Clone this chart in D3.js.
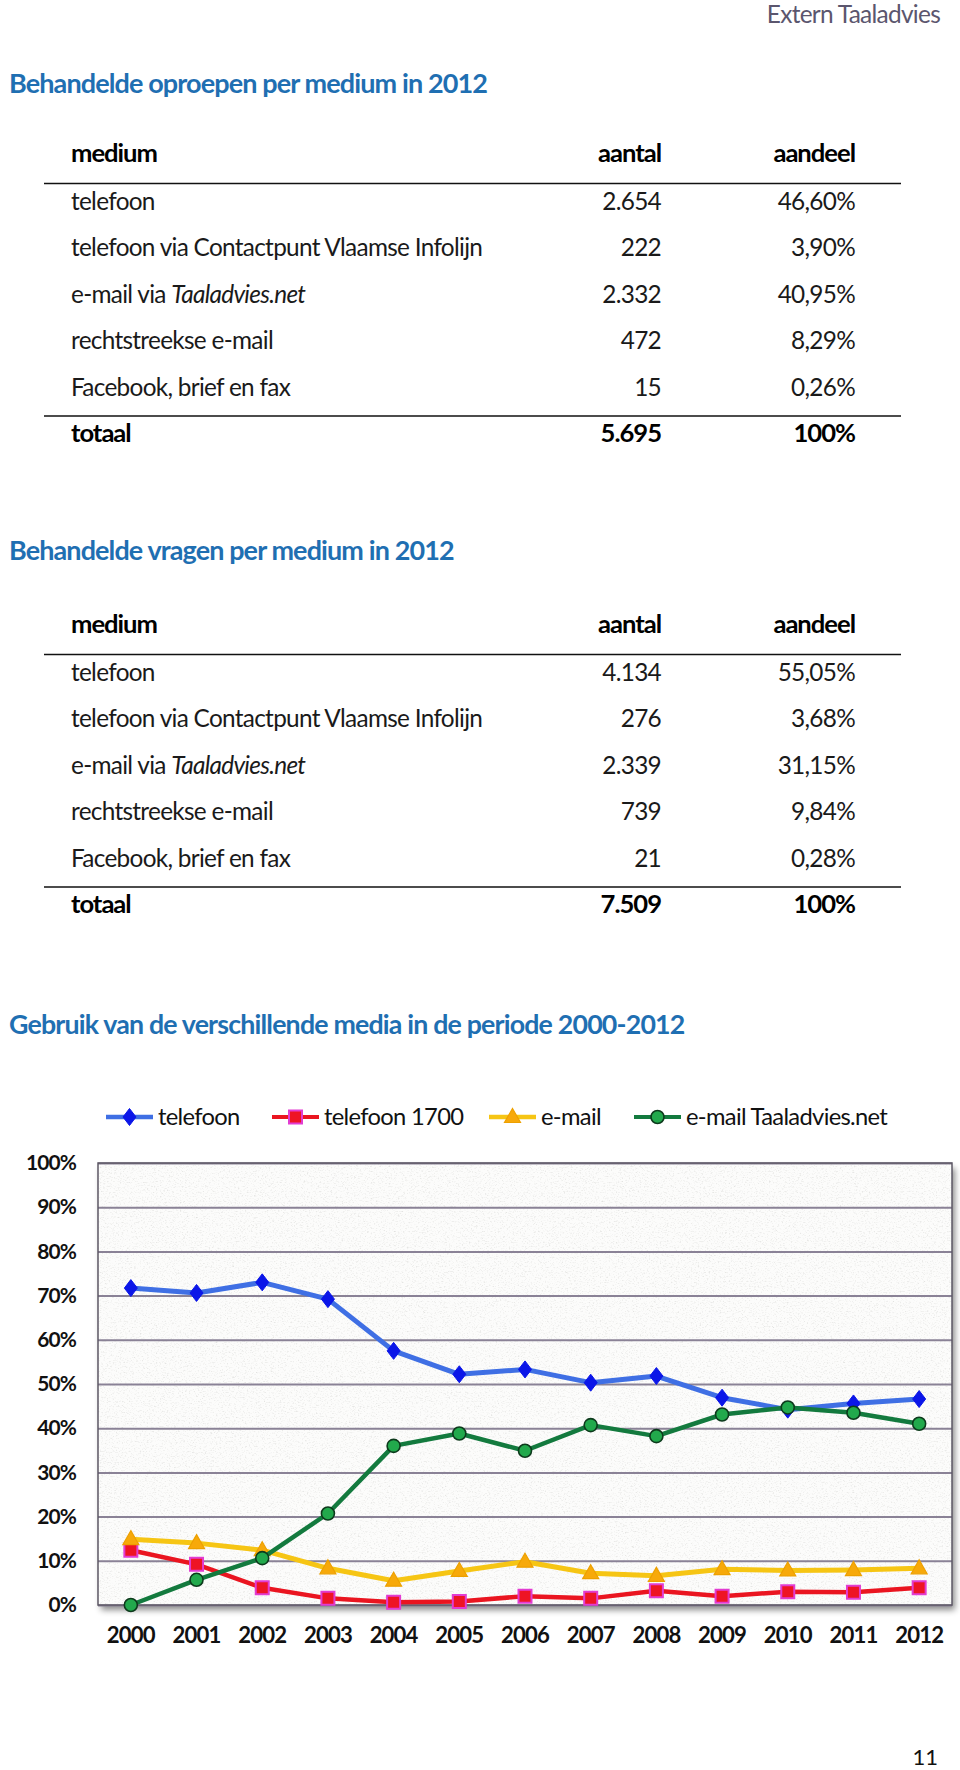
<!DOCTYPE html>
<html>
<head>
<meta charset="utf-8">
<script src="https://cdn.jsdelivr.net/npm/d3@7"></script>
<style>
  html, body { margin: 0; padding: 0; background: #fff; }
  svg { display: block; }
  text { font-family: Lato, "Open Sans", sans-serif; }
</style>
</head>
<body>
<svg id="page" width="960" height="1770"></svg>
<script>
// ---------------- DATA ----------------
const media = ["telefoon", "telefoon via Contactpunt Vlaamse Infolijn", "e-mail via Taaladvies.net", "rechtstreekse e-mail", "Facebook, brief en fax"];
const columns = ["medium", "aantal", "aandeel"];

const oproepenAantal = [2654, 222, 2332, 472, 15];
const oproepenAandeel = [46.60, 3.90, 40.95, 8.29, 0.26];
const oproepenTotaal = 5695;

const vragenAantal = [4134, 276, 2339, 739, 21];
const vragenAandeel = [55.05, 3.68, 31.15, 9.84, 0.28];
const vragenTotaal = 7509;

const years = ["2000","2001","2002","2003","2004","2005","2006","2007","2008","2009","2010","2011","2012"];
const seriesNames = ["telefoon", "telefoon 1700", "e-mail", "e-mail Taaladvies.net"];
const telefoon        = [71.7, 70.6, 73.0, 69.2, 57.5, 52.2, 53.3, 50.3, 51.8, 46.9, 44.2, 45.6, 46.6];
const telefoon1700    = [12.4,  9.2,  3.9,  1.5,  0.6,  0.8,  2.0,  1.5,  3.2,  2.0,  3.0,  2.9,  3.9];
const email           = [14.9, 14.0, 12.4,  8.3,  5.5,  7.7,  9.8,  7.2,  6.6,  8.1,  7.8,  7.9,  8.3];
const emailTaaladvies = [ 0.0,  5.7, 10.6, 20.7, 36.0, 38.8, 34.9, 40.7, 38.2, 43.1, 44.7, 43.5, 41.0];
const yTicks = [0, 0.1, 0.2, 0.3, 0.4, 0.5, 0.6, 0.7, 0.8, 0.9, 1.0];

// ---------------- HELPERS ----------------
const nl = d3.formatLocale({decimal: ",", thousands: ".", grouping: [3], currency: ["€", ""]});
const fmtInt = nl.format(",d");
const fmtPct = v => nl.format(".2f")(v) + "%";

const FAMILY = "Lato, 'Open Sans', sans-serif";
const mctx = document.createElement("canvas").getContext("2d");
function fit(text, weight, target, style) {
  mctx.font = `${style || "normal"} ${weight} 100px ${FAMILY}`;
  return 100 * target / mctx.measureText(text).width;
}
// slightly taller glyphs with tighter tracking (Calibri-like proportions)
const K = 1.07;
function tight(sel, text, weight, target) {
  const s = fit(text, weight, target);
  sel.attr("font-size", s * K).attr("letter-spacing", -(K - 1) * target / text.length);
  return sel;
}

const svg = d3.select("#page");
const defs = svg.append("defs");

// ---------------- HEADER ----------------
tight(svg.append("text")
  .attr("x", 940).attr("y", 14).attr("dy", "0.35em")
  .attr("text-anchor", "end")
  .attr("fill", "#5b566e"), "Extern Taaladvies", 400, 174)
  .text("Extern Taaladvies");

const titleBlue = "#1f6fb2";
function title(txt, y, w) {
  tight(svg.append("text")
    .attr("x", 9).attr("y", y).attr("dy", "0.35em")
    .attr("fill", titleBlue)
    .attr("font-weight", 700), txt, 700, w)
    .text(txt);
}

// ---------------- TABLES ----------------
const bodyRef = "telefoon via Contactpunt Vlaamse Infolijn";
const bodySize = fit(bodyRef, 400, 413) * K;
const bodyLS = -(K - 1) * 413 / bodyRef.length;
const headSize = fit("medium", 700, 86) * K;
const headLS = -(K - 1) * 86 / 6;
const colX = {medium: 71, aantal: 661, aandeel: 855};

function table(headerY, aantal, aandeel, totaal) {
  const g = svg.append("g");
  const rowY = d3.scalePoint().domain(d3.range(media.length)).range([headerY + 48.5, headerY + 48.5 + 46.4 * 4]);

  g.selectAll("text.h").data(columns).join("text")
    .attr("class", "h")
    .attr("x", d => colX[d]).attr("y", headerY).attr("dy", "0.35em")
    .attr("text-anchor", d => d === "medium" ? "start" : "end")
    .attr("font-weight", 700).attr("font-size", headSize).attr("letter-spacing", headLS).attr("fill", "#000")
    .text(d => d);

  g.selectAll("line").data([headerY + 30.5, headerY + 263]).join("line")
    .attr("x1", 44).attr("x2", 901).attr("y1", d => d).attr("y2", d => d)
    .attr("stroke", "#111").attr("stroke-width", 1.6);

  const rows = g.selectAll("g.row").data(media.map((m, i) => ({m, n: aantal[i], p: aandeel[i], i})))
    .join("g").attr("class", "row")
    .attr("transform", d => `translate(0,${rowY(d.i)})`)
    .attr("font-size", bodySize).attr("letter-spacing", bodyLS).attr("fill", "#1a1a1a");

  rows.append("text").attr("x", colX.medium).attr("dy", "0.35em")
    .each(function(d) {
      const t = d3.select(this);
      if (d.m.indexOf("Taaladvies.net") >= 0) {
        t.append("tspan").text("e-mail via ");
        t.append("tspan").attr("font-style", "italic").text("Taaladvies.net");
      } else t.text(d.m);
    });
  rows.append("text").attr("x", colX.aantal).attr("dy", "0.35em").attr("text-anchor", "end").text(d => fmtInt(d.n));
  rows.append("text").attr("x", colX.aandeel).attr("dy", "0.35em").attr("text-anchor", "end").text(d => fmtPct(d.p));

  const tg = g.append("g").attr("font-weight", 700).attr("font-size", headSize).attr("letter-spacing", headLS).attr("fill", "#000");
  tg.append("text").attr("x", colX.medium).attr("y", headerY + 280).attr("dy", "0.35em").text("totaal");
  tg.append("text").attr("x", colX.aantal).attr("y", headerY + 280).attr("dy", "0.35em").attr("text-anchor", "end").text(fmtInt(totaal));
  tg.append("text").attr("x", colX.aandeel).attr("y", headerY + 280).attr("dy", "0.35em").attr("text-anchor", "end").text("100%");
}

title("Behandelde oproepen per medium in 2012", 84, 479);
table(153, oproepenAantal, oproepenAandeel, oproepenTotaal);

title("Behandelde vragen per medium in 2012", 551, 446);
table(624, vragenAantal, vragenAandeel, vragenTotaal);

title("Gebruik van de verschillende media in de periode 2000-2012", 1025, 677);

// ---------------- CHART ----------------
const plot = {left: 98, right: 952, top: 1163, bottom: 1605};
const x = d3.scaleBand().domain(years).range([plot.left, plot.right]);
const y = d3.scaleLinear().domain([0, 1]).range([plot.bottom, plot.top]);

const shadow = defs.append("filter").attr("id", "shadow").attr("x", "-5%").attr("y", "-5%").attr("width", "112%").attr("height", "115%");
shadow.append("feDropShadow").attr("dx", 3).attr("dy", 5).attr("stdDeviation", 3).attr("flood-color", "#000").attr("flood-opacity", 0.45);

const noise = defs.append("filter").attr("id", "noise").attr("x", 0).attr("y", 0).attr("width", "100%").attr("height", "100%");
noise.append("feTurbulence").attr("type", "fractalNoise").attr("baseFrequency", "0.55 0.8").attr("numOctaves", 3).attr("seed", 7);
noise.append("feColorMatrix").attr("type", "matrix")
  .attr("values", "0 0 0 0 0.6  0 0 0 0 0.6  0 0 0 0 0.58  2.2 0 0 0 -1.15");

const chart = svg.append("g");
chart.append("rect")
  .attr("x", plot.left).attr("y", plot.top)
  .attr("width", plot.right - plot.left).attr("height", plot.bottom - plot.top)
  .attr("fill", "#fcfcfb").attr("filter", "url(#shadow)");
chart.append("rect")
  .attr("x", plot.left).attr("y", plot.top)
  .attr("width", plot.right - plot.left).attr("height", plot.bottom - plot.top)
  .attr("fill", "#fff").attr("filter", "url(#noise)").attr("opacity", 0.6);

const grid = chart.append("g")
  .attr("transform", `translate(${plot.left},0)`)
  .call(d3.axisLeft(y).tickValues(yTicks).tickSize(-(plot.right - plot.left)).tickFormat(""));
grid.select(".domain").remove();
grid.selectAll(".tick line").attr("stroke", "#8a8296").attr("stroke-width", 2);

chart.append("rect")
  .attr("x", plot.left).attr("y", plot.top)
  .attr("width", plot.right - plot.left).attr("height", plot.bottom - plot.top)
  .attr("fill", "none").attr("stroke", "#5d5866").attr("stroke-width", 1.5);

const yAx = chart.append("g")
  .attr("transform", `translate(${plot.left},0)`)
  .call(d3.axisLeft(y).tickValues(yTicks).tickSize(0).tickPadding(22).tickFormat(d3.format(".0%")));
yAx.select(".domain").remove();
yAx.selectAll("text")
  .attr("font-family", FAMILY).attr("font-weight", 700)
  .attr("font-size", fit("100%", 700, 50) * K).attr("letter-spacing", -(K - 1) * 50 / 4).attr("fill", "#111");

const xAx = chart.append("g")
  .attr("transform", `translate(0,${plot.bottom})`)
  .call(d3.axisBottom(x).tickSize(0).tickPadding(0));
xAx.select(".domain").remove();
xAx.selectAll("text")
  .attr("y", 30).attr("dy", "0.35em")
  .attr("font-family", FAMILY).attr("font-weight", 700)
  .attr("font-size", fit("2000", 700, 48) * K).attr("letter-spacing", -(K - 1) * 48 / 4).attr("fill", "#111");

const styles = [
  {values: telefoon,        line: "#3f6fe4", lw: 5,   marker: "diamond",  fill: "#0b16e8", stroke: "#0b16e8", sw: 1},
  {values: telefoon1700,    line: "#ea1520", lw: 4.5, marker: "square",   fill: "#ee1424", stroke: "#e23cd2", sw: 2},
  {values: email,           line: "#f6c514", lw: 5,   marker: "triangle", fill: "#f7a90a", stroke: "#eda000", sw: 1.2},
  {values: emailTaaladvies, line: "#137a3e", lw: 4.5, marker: "circle",   fill: "#22a94c", stroke: "#0d3a1c", sw: 1.6}
];
const markerPath = {
  diamond: "M0,-8.5L6.5,0L0,8.5L-6.5,0Z",
  square: "M-6.5,-6.5H6.5V6.5H-6.5Z",
  triangle: "M0,-8.5L8,5.5H-8Z",
  circle: "M6.5,0A6.5,6.5 0 1,1 -6.5,0A6.5,6.5 0 1,1 6.5,0Z"
};

const lineGen = d3.line().x((d, i) => x(years[i]) + x.bandwidth() / 2).y(d => y(d / 100));

const seriesG = chart.selectAll("g.series").data(styles).join("g").attr("class", "series");
seriesG.append("path")
  .attr("d", s => lineGen(s.values))
  .attr("fill", "none").attr("stroke", s => s.line).attr("stroke-width", s => s.lw)
  .attr("stroke-linejoin", "round").attr("stroke-linecap", "round");
seriesG.each(function(s) {
  d3.select(this).selectAll("path.m").data(s.values).join("path")
    .attr("class", "m")
    .attr("transform", (d, i) => `translate(${x(years[i]) + x.bandwidth() / 2},${y(d / 100)})`)
    .attr("d", markerPath[s.marker])
    .attr("fill", s.fill).attr("stroke", s.stroke).attr("stroke-width", s.sw);
});

const legendX = [106, 272, 489, 634];
const legendY = 1117;
const legRef = "e-mail Taaladvies.net";
const legSize = fit(legRef, 400, 202) * K;
const leg = chart.selectAll("g.leg").data(styles).join("g").attr("class", "leg")
  .attr("transform", (s, i) => `translate(${legendX[i]},${legendY})`);
leg.append("line").attr("x1", 0).attr("x2", 47)
  .attr("stroke", s => s.line).attr("stroke-width", s => s.lw - 0.5);
leg.append("path").attr("transform", "translate(23.5,0)")
  .attr("d", s => markerPath[s.marker])
  .attr("fill", s => s.fill).attr("stroke", s => s.stroke).attr("stroke-width", s => s.sw);
leg.append("text").attr("x", 52).attr("dy", "0.35em")
  .attr("font-size", legSize).attr("letter-spacing", -(K - 1) * 202 / legRef.length).attr("fill", "#111")
  .text((s, i) => seriesNames[i]);

svg.append("text")
  .attr("x", 938).attr("y", 1757).attr("dy", "0.35em").attr("text-anchor", "end")
  .attr("font-size", 22).attr("fill", "#111")
  .text("11");
</script>
</body>
</html>
